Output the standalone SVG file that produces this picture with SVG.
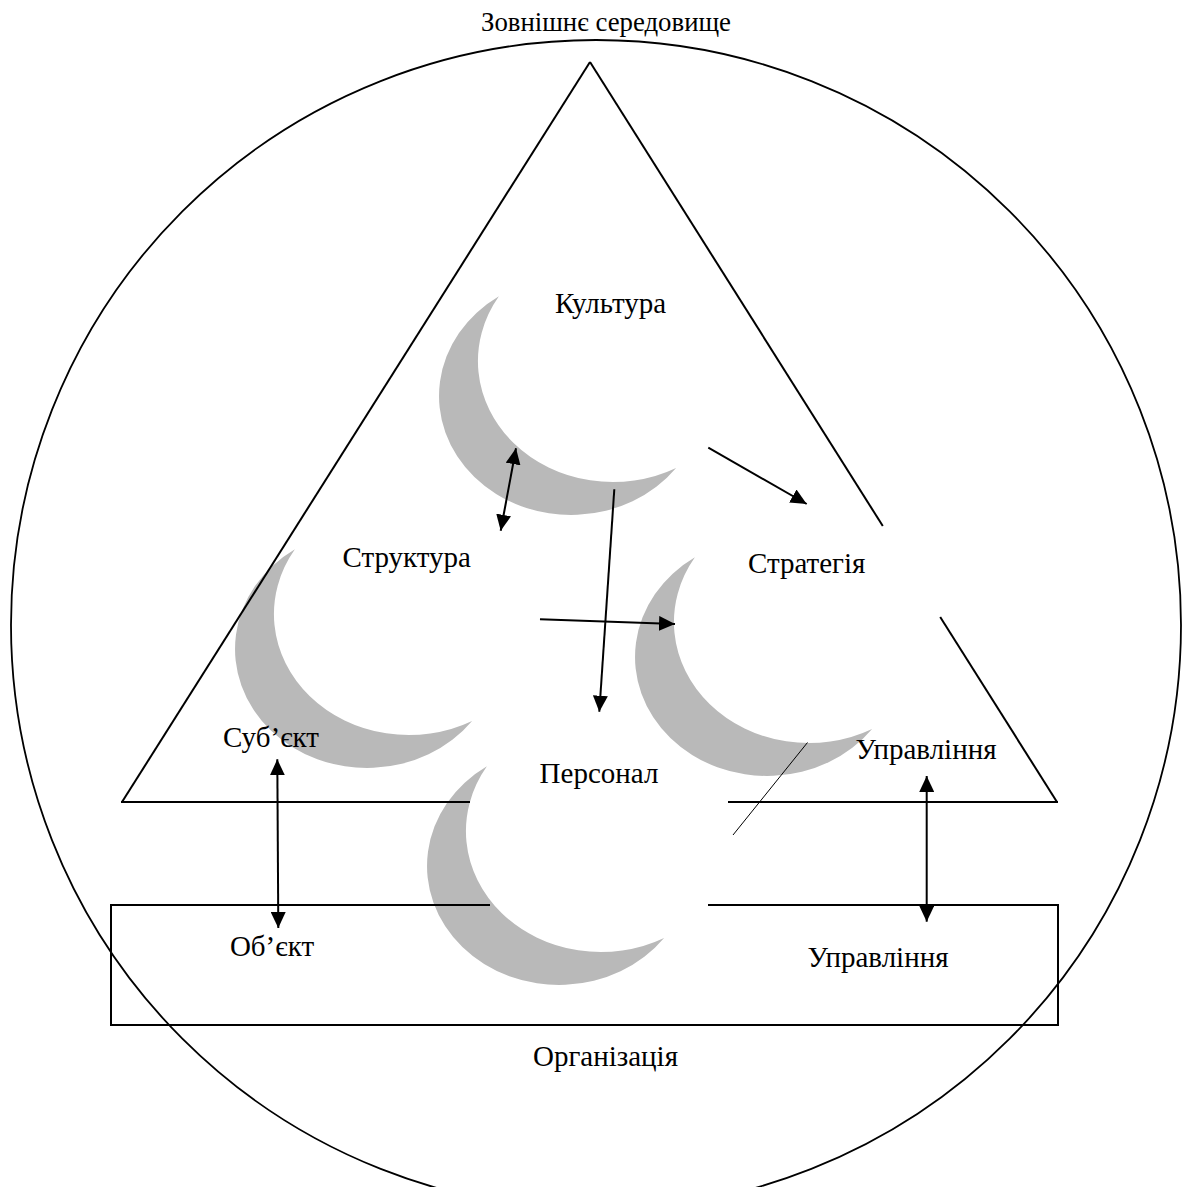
<svg xmlns="http://www.w3.org/2000/svg" xmlns:xlink="http://www.w3.org/1999/xlink" width="1190" height="1187" viewBox="0 0 1190 1187">
<style>
.ln{stroke:#000;stroke-width:2;fill:none}
.thin{stroke:#000;stroke-width:1;fill:none}
.ar{stroke:#000;stroke-width:2;fill:none;marker-end:url(#ah)}
.dar{stroke:#000;stroke-width:2;fill:none;marker-start:url(#ah);marker-end:url(#ah)}
.t{font-family:"Liberation Serif","Times New Roman",serif;font-size:29px;fill:#000;text-anchor:middle}
.title{font-size:26.8px}
.moon{fill:#b9b9b9}
</style>
<defs>
<marker id="ah" viewBox="0 0 16 15" refX="16" refY="7.5" markerWidth="16" markerHeight="15" markerUnits="userSpaceOnUse" orient="auto-start-reverse">
<path d="M0,0 L16,7.5 L0,15 z" fill="#000"/>
</marker>
<path id="moon" class="moon" d="M 498.9 296.3 A 132 119 0 1 0 676.1 468 A 135 121 0 0 1 498.9 296.3 Z"/>
</defs>
<rect width="1190" height="1187" fill="#fff"/>

<g id="environment">
<circle cx="596" cy="625" r="585" fill="none" stroke="#000" stroke-width="1.8"/>
<text class="t title" x="606" y="31">Зовнішнє середовище</text>
</g>

<g id="crescents">
<use id="moon-culture" xlink:href="#moon" href="#moon"/>
<use id="moon-structure" xlink:href="#moon" href="#moon" transform="translate(-204,253)"/>
<use id="moon-strategy" xlink:href="#moon" href="#moon" transform="translate(196,261)"/>
<use id="moon-personnel" xlink:href="#moon" href="#moon" transform="translate(-12,470)"/>
</g>

<g id="triangle">
<line class="ln" x1="590" y1="62" x2="122" y2="802"/>
<line class="ln" x1="590" y1="62" x2="882.8" y2="526"/>
<line class="ln" x1="940.2" y1="617" x2="1057" y2="802"/>
<line class="ln" x1="121" y1="802" x2="470" y2="802"/>
<line class="ln" x1="728" y1="802" x2="1058" y2="802"/>
</g>

<g id="organization-box">
<line class="ln" x1="111" y1="905" x2="490" y2="905"/>
<line class="ln" x1="708" y1="905" x2="1058" y2="905"/>
<line class="ln" x1="111" y1="904" x2="111" y2="1026"/>
<line class="ln" x1="1058" y1="904" x2="1058" y2="1026"/>
<line class="ln" x1="110" y1="1025" x2="1059" y2="1025"/>
</g>

<line class="thin" x1="807.5" y1="742.5" x2="733" y2="835"/>

<g id="connectors">
<line class="dar" x1="516" y1="448.3" x2="500.7" y2="530.7"/>
<line class="ar" x1="614.3" y1="489.3" x2="599.3" y2="711.7"/>
<line class="ar" x1="540" y1="619.3" x2="675" y2="624"/>
<line class="ar" x1="708.3" y1="447.7" x2="806.7" y2="504"/>
<line class="dar" x1="277.3" y1="759.3" x2="278.3" y2="928"/>
<line class="dar" x1="926.7" y1="776" x2="926.7" y2="921.7"/>
</g>

<g id="culture"><text class="t" x="610.5" y="313.3">Культура</text></g>
<g id="structure"><text class="t" x="406.7" y="566.7">Структура</text></g>
<g id="strategy"><text class="t" x="806.7" y="572.7">Стратегія</text></g>
<g id="personnel"><text class="t" x="599" y="783.3">Персонал</text></g>
<g id="subject"><text class="t" x="271" y="747">Суб’єкт</text></g>
<g id="object"><text class="t" x="272" y="956">Об’єкт</text></g>
<g id="management-top"><text class="t" x="926" y="759.3">Управління</text></g>
<g id="management-bottom"><text class="t" x="878" y="967">Управління</text></g>
<g id="organization"><text class="t" x="605.5" y="1066">Організація</text></g>
</svg>
